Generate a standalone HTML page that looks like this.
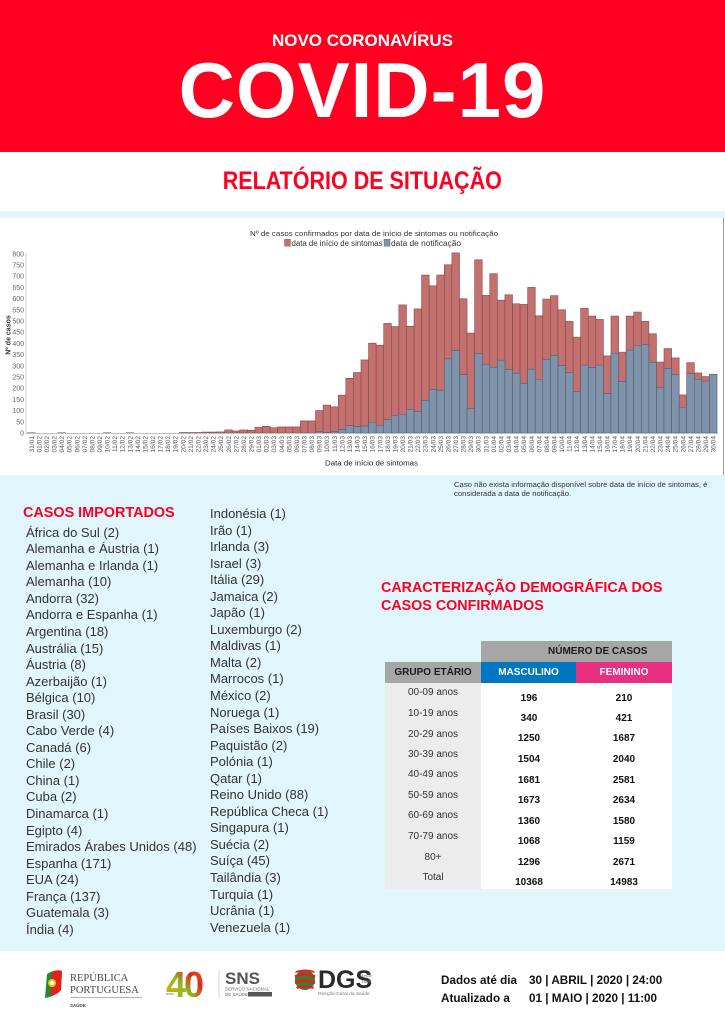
<!DOCTYPE html>
<html><head><meta charset="utf-8">
<style>
*{margin:0;padding:0;box-sizing:border-box}
body{width:725px;height:1024px;position:relative;overflow:hidden;background:#fff;font-family:"Liberation Sans",sans-serif;}
.a{position:absolute;white-space:nowrap}
.list{position:absolute;font-size:13px;line-height:16.55px;color:#333}
.tl{position:absolute;font-size:10px;color:#333;text-align:center;width:96px;left:385px;line-height:12px}
.nm{position:absolute;font-size:10px;font-weight:bold;color:#111;text-align:center;width:60px;line-height:12px}
</style></head><body>

<div class="a" style="left:0;top:0;width:725px;height:152px;background:#ff0020"></div>
<div class="a" style="left:0;top:31.5px;width:725px;text-align:center;font-size:17px;line-height:17px;font-weight:bold;color:#fff">NOVO CORONAVÍRUS</div>
<div class="a" style="left:0;top:51px;width:725px;text-align:center;font-size:78px;line-height:78px;font-weight:bold;color:#fff;letter-spacing:1px">COVID-19</div>
<div class="a" style="left:0;top:168.8px;width:725px;text-align:center;font-size:25px;line-height:25px;font-weight:bold;color:#ff0020"><span style="display:inline-block;transform:scaleX(0.86)">RELATÓRIO DE SITUAÇÃO</span></div>

<div class="a" style="left:0;top:211px;width:725px;height:7px;background:#e0f5fc"></div>
<div class="a" style="left:0;top:475px;width:725px;height:476px;background:#e1f5fc"></div>
<div class="a" style="left:723px;top:218px;width:1px;height:257px;background:#9a9a9a"></div>

<svg class="a" style="left:0;top:0" width="725" height="480" viewBox="0 0 725 480" xmlns="http://www.w3.org/2000/svg" font-family="Liberation Sans, sans-serif">
<text x="250" y="236" font-size="7.5" fill="#333" textLength="248" lengthAdjust="spacingAndGlyphs">Nº de casos confirmados por data de início de sintomas ou notificação</text>
<rect x="284.5" y="239.2" width="6" height="7" fill="#c4706f" stroke="#8a5555" stroke-width="0.4"/>
<text x="291.5" y="246" font-size="7.8" fill="#333" textLength="91" lengthAdjust="spacingAndGlyphs">data de início de sintomas</text>
<rect x="384" y="239.2" width="6" height="7" fill="#7f93ab" stroke="#55657a" stroke-width="0.4"/>
<text x="391" y="246" font-size="7.8" fill="#333" textLength="70" lengthAdjust="spacingAndGlyphs">data de notificação</text>

<g font-size="7" fill="#666" text-anchor="end">
<text x="24" y="435.5">0</text><text x="24" y="424.3">50</text><text x="24" y="413.1">100</text><text x="24" y="401.9">150</text><text x="24" y="390.7">200</text><text x="24" y="379.5">250</text><text x="24" y="368.3">300</text><text x="24" y="357.1">350</text><text x="24" y="345.9">400</text><text x="24" y="334.7">450</text><text x="24" y="323.5">500</text><text x="24" y="312.3">550</text><text x="24" y="301.1">600</text><text x="24" y="289.9">650</text><text x="24" y="278.7">700</text><text x="24" y="267.5">750</text><text x="24" y="256.3">800</text>
</g>
<line x1="26" y1="253" x2="26" y2="433.5" stroke="#bbb" stroke-width="0.7"/>
<text transform="translate(10.5 335) rotate(-90)" font-size="7" font-weight="bold" fill="#333" text-anchor="middle">Nº de casos</text>

<g transform="translate(27.7 433) scale(7.575 -0.224)" fill="#c4706f" stroke="#7e4a4a" stroke-width="0.6">
<rect vector-effect="non-scaling-stroke" x="0" y="0" width="1" height="1"/>
<rect vector-effect="non-scaling-stroke" x="4" y="0" width="1" height="1"/>
<rect vector-effect="non-scaling-stroke" x="10" y="0" width="1" height="1"/>
<rect vector-effect="non-scaling-stroke" x="13" y="0" width="1" height="1"/>
<rect vector-effect="non-scaling-stroke" x="20" y="0" width="1" height="2"/>
<rect vector-effect="non-scaling-stroke" x="21" y="0" width="1" height="2"/>
<rect vector-effect="non-scaling-stroke" x="22" y="0" width="1" height="2"/>
<rect vector-effect="non-scaling-stroke" x="23" y="0" width="1" height="4"/>
<rect vector-effect="non-scaling-stroke" x="24" y="0" width="1" height="4"/>
<rect vector-effect="non-scaling-stroke" x="25" y="0" width="1" height="5"/>
<rect vector-effect="non-scaling-stroke" x="26" y="0" width="1" height="14"/>
<rect vector-effect="non-scaling-stroke" x="27" y="0" width="1" height="9"/>
<rect vector-effect="non-scaling-stroke" x="28" y="0" width="1" height="14"/>
<rect vector-effect="non-scaling-stroke" x="29" y="0" width="1" height="12"/>
<rect vector-effect="non-scaling-stroke" x="30" y="0" width="1" height="25"/>
<rect vector-effect="non-scaling-stroke" x="31" y="0" width="1" height="30"/>
<rect vector-effect="non-scaling-stroke" x="32" y="0" width="1" height="24"/>
<rect vector-effect="non-scaling-stroke" x="33" y="0" width="1" height="27"/>
<rect vector-effect="non-scaling-stroke" x="34" y="0" width="1" height="27"/>
<rect vector-effect="non-scaling-stroke" x="35" y="0" width="1" height="27"/>
<rect vector-effect="non-scaling-stroke" x="36" y="0" width="1" height="54"/>
<rect vector-effect="non-scaling-stroke" x="37" y="0" width="1" height="54"/>
<rect vector-effect="non-scaling-stroke" x="38" y="0" width="1" height="100"/>
<rect vector-effect="non-scaling-stroke" x="39" y="0" width="1" height="125"/>
<rect vector-effect="non-scaling-stroke" x="40" y="0" width="1" height="117"/>
<rect vector-effect="non-scaling-stroke" x="41" y="0" width="1" height="169"/>
<rect vector-effect="non-scaling-stroke" x="42" y="0" width="1" height="244"/>
<rect vector-effect="non-scaling-stroke" x="43" y="0" width="1" height="270"/>
<rect vector-effect="non-scaling-stroke" x="44" y="0" width="1" height="326"/>
<rect vector-effect="non-scaling-stroke" x="45" y="0" width="1" height="401"/>
<rect vector-effect="non-scaling-stroke" x="46" y="0" width="1" height="392"/>
<rect vector-effect="non-scaling-stroke" x="47" y="0" width="1" height="489"/>
<rect vector-effect="non-scaling-stroke" x="48" y="0" width="1" height="475"/>
<rect vector-effect="non-scaling-stroke" x="49" y="0" width="1" height="572"/>
<rect vector-effect="non-scaling-stroke" x="50" y="0" width="1" height="477"/>
<rect vector-effect="non-scaling-stroke" x="51" y="0" width="1" height="554"/>
<rect vector-effect="non-scaling-stroke" x="52" y="0" width="1" height="705"/>
<rect vector-effect="non-scaling-stroke" x="53" y="0" width="1" height="657"/>
<rect vector-effect="non-scaling-stroke" x="54" y="0" width="1" height="705"/>
<rect vector-effect="non-scaling-stroke" x="55" y="0" width="1" height="751"/>
<rect vector-effect="non-scaling-stroke" x="56" y="0" width="1" height="804"/>
<rect vector-effect="non-scaling-stroke" x="57" y="0" width="1" height="599"/>
<rect vector-effect="non-scaling-stroke" x="58" y="0" width="1" height="446"/>
<rect vector-effect="non-scaling-stroke" x="59" y="0" width="1" height="773"/>
<rect vector-effect="non-scaling-stroke" x="60" y="0" width="1" height="614"/>
<rect vector-effect="non-scaling-stroke" x="61" y="0" width="1" height="711"/>
<rect vector-effect="non-scaling-stroke" x="62" y="0" width="1" height="593"/>
<rect vector-effect="non-scaling-stroke" x="63" y="0" width="1" height="617"/>
<rect vector-effect="non-scaling-stroke" x="64" y="0" width="1" height="577"/>
<rect vector-effect="non-scaling-stroke" x="65" y="0" width="1" height="574"/>
<rect vector-effect="non-scaling-stroke" x="66" y="0" width="1" height="650"/>
<rect vector-effect="non-scaling-stroke" x="67" y="0" width="1" height="523"/>
<rect vector-effect="non-scaling-stroke" x="68" y="0" width="1" height="598"/>
<rect vector-effect="non-scaling-stroke" x="69" y="0" width="1" height="613"/>
<rect vector-effect="non-scaling-stroke" x="70" y="0" width="1" height="550"/>
<rect vector-effect="non-scaling-stroke" x="71" y="0" width="1" height="498"/>
<rect vector-effect="non-scaling-stroke" x="72" y="0" width="1" height="428"/>
<rect vector-effect="non-scaling-stroke" x="73" y="0" width="1" height="557"/>
<rect vector-effect="non-scaling-stroke" x="74" y="0" width="1" height="522"/>
<rect vector-effect="non-scaling-stroke" x="75" y="0" width="1" height="507"/>
<rect vector-effect="non-scaling-stroke" x="76" y="0" width="1" height="344"/>
<rect vector-effect="non-scaling-stroke" x="77" y="0" width="1" height="522"/>
<rect vector-effect="non-scaling-stroke" x="78" y="0" width="1" height="361"/>
<rect vector-effect="non-scaling-stroke" x="79" y="0" width="1" height="522"/>
<rect vector-effect="non-scaling-stroke" x="80" y="0" width="1" height="540"/>
<rect vector-effect="non-scaling-stroke" x="81" y="0" width="1" height="498"/>
<rect vector-effect="non-scaling-stroke" x="82" y="0" width="1" height="443"/>
<rect vector-effect="non-scaling-stroke" x="83" y="0" width="1" height="317"/>
<rect vector-effect="non-scaling-stroke" x="84" y="0" width="1" height="377"/>
<rect vector-effect="non-scaling-stroke" x="85" y="0" width="1" height="335"/>
<rect vector-effect="non-scaling-stroke" x="86" y="0" width="1" height="170"/>
<rect vector-effect="non-scaling-stroke" x="87" y="0" width="1" height="314"/>
<rect vector-effect="non-scaling-stroke" x="88" y="0" width="1" height="268"/>
<rect vector-effect="non-scaling-stroke" x="89" y="0" width="1" height="252"/>
</g>
<g transform="translate(27.7 433) scale(7.575 -0.224)" fill="#7f93ab" stroke="#4f5f72" stroke-width="0.6">
<rect vector-effect="non-scaling-stroke" x="38" y="0" width="1" height="6"/>
<rect vector-effect="non-scaling-stroke" x="39" y="0" width="1" height="2"/>
<rect vector-effect="non-scaling-stroke" x="40" y="0" width="1" height="6"/>
<rect vector-effect="non-scaling-stroke" x="41" y="0" width="1" height="16"/>
<rect vector-effect="non-scaling-stroke" x="42" y="0" width="1" height="33"/>
<rect vector-effect="non-scaling-stroke" x="43" y="0" width="1" height="28"/>
<rect vector-effect="non-scaling-stroke" x="44" y="0" width="1" height="31"/>
<rect vector-effect="non-scaling-stroke" x="45" y="0" width="1" height="48"/>
<rect vector-effect="non-scaling-stroke" x="46" y="0" width="1" height="34"/>
<rect vector-effect="non-scaling-stroke" x="47" y="0" width="1" height="60"/>
<rect vector-effect="non-scaling-stroke" x="48" y="0" width="1" height="77"/>
<rect vector-effect="non-scaling-stroke" x="49" y="0" width="1" height="82"/>
<rect vector-effect="non-scaling-stroke" x="50" y="0" width="1" height="106"/>
<rect vector-effect="non-scaling-stroke" x="51" y="0" width="1" height="95"/>
<rect vector-effect="non-scaling-stroke" x="52" y="0" width="1" height="146"/>
<rect vector-effect="non-scaling-stroke" x="53" y="0" width="1" height="195"/>
<rect vector-effect="non-scaling-stroke" x="54" y="0" width="1" height="191"/>
<rect vector-effect="non-scaling-stroke" x="55" y="0" width="1" height="331"/>
<rect vector-effect="non-scaling-stroke" x="56" y="0" width="1" height="368"/>
<rect vector-effect="non-scaling-stroke" x="57" y="0" width="1" height="261"/>
<rect vector-effect="non-scaling-stroke" x="58" y="0" width="1" height="109"/>
<rect vector-effect="non-scaling-stroke" x="59" y="0" width="1" height="355"/>
<rect vector-effect="non-scaling-stroke" x="60" y="0" width="1" height="307"/>
<rect vector-effect="non-scaling-stroke" x="61" y="0" width="1" height="294"/>
<rect vector-effect="non-scaling-stroke" x="62" y="0" width="1" height="325"/>
<rect vector-effect="non-scaling-stroke" x="63" y="0" width="1" height="283"/>
<rect vector-effect="non-scaling-stroke" x="64" y="0" width="1" height="267"/>
<rect vector-effect="non-scaling-stroke" x="65" y="0" width="1" height="222"/>
<rect vector-effect="non-scaling-stroke" x="66" y="0" width="1" height="285"/>
<rect vector-effect="non-scaling-stroke" x="67" y="0" width="1" height="240"/>
<rect vector-effect="non-scaling-stroke" x="68" y="0" width="1" height="329"/>
<rect vector-effect="non-scaling-stroke" x="69" y="0" width="1" height="347"/>
<rect vector-effect="non-scaling-stroke" x="70" y="0" width="1" height="301"/>
<rect vector-effect="non-scaling-stroke" x="71" y="0" width="1" height="270"/>
<rect vector-effect="non-scaling-stroke" x="72" y="0" width="1" height="185"/>
<rect vector-effect="non-scaling-stroke" x="73" y="0" width="1" height="303"/>
<rect vector-effect="non-scaling-stroke" x="74" y="0" width="1" height="292"/>
<rect vector-effect="non-scaling-stroke" x="75" y="0" width="1" height="303"/>
<rect vector-effect="non-scaling-stroke" x="76" y="0" width="1" height="176"/>
<rect vector-effect="non-scaling-stroke" x="77" y="0" width="1" height="356"/>
<rect vector-effect="non-scaling-stroke" x="78" y="0" width="1" height="230"/>
<rect vector-effect="non-scaling-stroke" x="79" y="0" width="1" height="370"/>
<rect vector-effect="non-scaling-stroke" x="80" y="0" width="1" height="389"/>
<rect vector-effect="non-scaling-stroke" x="81" y="0" width="1" height="396"/>
<rect vector-effect="non-scaling-stroke" x="82" y="0" width="1" height="316"/>
<rect vector-effect="non-scaling-stroke" x="83" y="0" width="1" height="204"/>
<rect vector-effect="non-scaling-stroke" x="84" y="0" width="1" height="289"/>
<rect vector-effect="non-scaling-stroke" x="85" y="0" width="1" height="262"/>
<rect vector-effect="non-scaling-stroke" x="86" y="0" width="1" height="115"/>
<rect vector-effect="non-scaling-stroke" x="87" y="0" width="1" height="265"/>
<rect vector-effect="non-scaling-stroke" x="88" y="0" width="1" height="240"/>
<rect vector-effect="non-scaling-stroke" x="89" y="0" width="1" height="232"/>
<rect vector-effect="non-scaling-stroke" x="90" y="0" width="1" height="262"/>
</g>
<line x1="26" y1="433.3" x2="718" y2="433.3" stroke="#999" stroke-width="0.6"/>

<g transform="rotate(-90)" font-size="6.6" fill="#555" text-anchor="end">
<text x="-436" y="33.80">31/01</text><text x="-436" y="41.38">01/02</text><text x="-436" y="48.95">02/02</text><text x="-436" y="56.53">03/02</text><text x="-436" y="64.10">04/02</text><text x="-436" y="71.68">05/02</text><text x="-436" y="79.25">06/02</text><text x="-436" y="86.83">07/02</text><text x="-436" y="94.40">08/02</text><text x="-436" y="101.98">09/02</text>
<text x="-436" y="109.55">10/02</text><text x="-436" y="117.13">11/02</text><text x="-436" y="124.70">12/02</text><text x="-436" y="132.28">13/02</text><text x="-436" y="139.85">14/02</text><text x="-436" y="147.43">15/02</text><text x="-436" y="155.00">16/02</text><text x="-436" y="162.58">17/02</text><text x="-436" y="170.15">18/02</text><text x="-436" y="177.73">19/02</text>
<text x="-436" y="185.30">20/02</text><text x="-436" y="192.88">21/02</text><text x="-436" y="200.45">22/02</text><text x="-436" y="208.03">23/02</text><text x="-436" y="215.60">24/02</text><text x="-436" y="223.18">25/02</text><text x="-436" y="230.75">26/02</text><text x="-436" y="238.33">27/02</text><text x="-436" y="245.90">28/02</text><text x="-436" y="253.48">29/02</text>
<text x="-436" y="261.05">01/03</text><text x="-436" y="268.63">02/03</text><text x="-436" y="276.20">03/03</text><text x="-436" y="283.78">04/03</text><text x="-436" y="291.35">05/03</text><text x="-436" y="298.93">06/03</text><text x="-436" y="306.50">07/03</text><text x="-436" y="314.08">08/03</text><text x="-436" y="321.65">09/03</text><text x="-436" y="329.23">10/03</text>
<text x="-436" y="336.80">11/03</text><text x="-436" y="344.38">12/03</text><text x="-436" y="351.95">13/03</text><text x="-436" y="359.53">14/03</text><text x="-436" y="367.10">15/03</text><text x="-436" y="374.68">16/03</text><text x="-436" y="382.25">17/03</text><text x="-436" y="389.83">18/03</text><text x="-436" y="397.40">19/03</text><text x="-436" y="404.98">20/03</text>
<text x="-436" y="412.55">21/03</text><text x="-436" y="420.13">22/03</text><text x="-436" y="427.70">23/03</text><text x="-436" y="435.28">24/03</text><text x="-436" y="442.85">25/03</text><text x="-436" y="450.43">26/03</text><text x="-436" y="458.00">27/03</text><text x="-436" y="465.58">28/03</text><text x="-436" y="473.15">29/03</text><text x="-436" y="480.73">30/03</text>
<text x="-436" y="488.30">31/03</text><text x="-436" y="495.88">01/04</text><text x="-436" y="503.45">02/04</text><text x="-436" y="511.03">03/04</text><text x="-436" y="518.60">04/04</text><text x="-436" y="526.18">05/04</text><text x="-436" y="533.75">06/04</text><text x="-436" y="541.33">07/04</text><text x="-436" y="548.90">08/04</text><text x="-436" y="556.48">09/04</text>
<text x="-436" y="564.05">10/04</text><text x="-436" y="571.63">11/04</text><text x="-436" y="579.20">12/04</text><text x="-436" y="586.78">13/04</text><text x="-436" y="594.35">14/04</text><text x="-436" y="601.93">15/04</text><text x="-436" y="609.50">16/04</text><text x="-436" y="617.08">17/04</text><text x="-436" y="624.65">18/04</text><text x="-436" y="632.23">19/04</text>
<text x="-436" y="639.80">20/04</text><text x="-436" y="647.38">21/04</text><text x="-436" y="654.95">22/04</text><text x="-436" y="662.53">23/04</text><text x="-436" y="670.10">24/04</text><text x="-436" y="677.68">25/04</text><text x="-436" y="685.25">26/04</text><text x="-436" y="692.83">27/04</text><text x="-436" y="700.40">28/04</text><text x="-436" y="707.98">29/04</text>
<text x="-436" y="715.55">30/04</text>
</g>
<text x="325" y="465.5" font-size="7.5" fill="#222" textLength="93" lengthAdjust="spacingAndGlyphs">Data de início de sintomas</text>
</svg>

<div class="a" style="left:454px;top:479.5px;font-size:7.7px;line-height:9px;color:#333">Caso não exista informação disponível sobre data de início de sintomas, é<br>considerada a data de notificação.</div>

<div class="a" style="left:23px;top:505px;font-size:14.4px;line-height:16px;font-weight:bold;color:#ff0020">CASOS IMPORTADOS</div>
<div class="list" style="left:26px;top:524.7px">África do Sul (2)<br>Alemanha e Áustria (1)<br>Alemanha e Irlanda (1)<br>Alemanha (10)<br>Andorra (32)<br>Andorra e Espanha (1)<br>Argentina (18)<br>Austrália (15)<br>Áustria (8)<br>Azerbaijão (1)<br>Bélgica (10)<br>Brasil (30)<br>Cabo Verde (4)<br>Canadá (6)<br>Chile (2)<br>China (1)<br>Cuba (2)<br>Dinamarca (1)<br>Egipto (4)<br>Emirados Árabes Unidos (48)<br>Espanha (171)<br>EUA (24)<br>França (137)<br>Guatemala (3)<br>Índia (4)</div>
<div class="list" style="left:210px;top:506px">Indonésia (1)<br>Irão (1)<br>Irlanda (3)<br>Israel (3)<br>Itália (29)<br>Jamaica (2)<br>Japão (1)<br>Luxemburgo (2)<br>Maldivas (1)<br>Malta (2)<br>Marrocos (1)<br>México (2)<br>Noruega (1)<br>Países Baixos (19)<br>Paquistão (2)<br>Polónia (1)<br>Qatar (1)<br>Reino Unido (88)<br>República Checa (1)<br>Singapura (1)<br>Suécia (2)<br>Suíça (45)<br>Tailândia (3)<br>Turquia (1)<br>Ucrânia (1)<br>Venezuela (1)</div>

<div class="a" style="left:381px;top:579px;font-size:14.3px;line-height:18px;font-weight:bold;color:#ff0020">CARACTERIZAÇÃO DEMOGRÁFICA DOS<br>CASOS CONFIRMADOS</div>

<div class="a" style="left:481px;top:641px;width:191px;height:21px;background:#a6a6a6"></div>
<div class="a" style="left:548px;top:646px;font-size:10px;line-height:12px;font-weight:bold;color:#1a1a1a">NÚMERO DE CASOS</div>
<div class="a" style="left:385px;top:662px;width:96px;height:21px;background:#a6a6a6;color:#1a1a1a;font-size:10px;font-weight:bold;line-height:21px;text-align:center">GRUPO ETÁRIO</div>
<div class="a" style="left:481px;top:662px;width:95px;height:21px;background:#0077c0;color:#fff;font-size:10px;font-weight:bold;line-height:21px;text-align:center">MASCULINO</div>
<div class="a" style="left:576px;top:662px;width:96px;height:21px;background:#e92f7f;color:#fff;font-size:10px;font-weight:bold;line-height:21px;text-align:center">FEMININO</div>
<div class="a" style="left:385px;top:683px;width:96px;height:206px;background:#ececec"></div>
<div class="a" style="left:481px;top:683px;width:191px;height:206px;background:#fff"></div>

<div class="tl" style="top:687px">00-09 anos</div>
<div class="tl" style="top:707.7px">10-19 anos</div>
<div class="tl" style="top:728.7px">20-29 anos</div>
<div class="tl" style="top:748.7px">30-39 anos</div>
<div class="tl" style="top:769.3px">40-49 anos</div>
<div class="tl" style="top:790px">50-59 anos</div>
<div class="tl" style="top:810.3px">60-69 anos</div>
<div class="tl" style="top:831px">70-79 anos</div>
<div class="tl" style="top:851.7px">80+</div>
<div class="tl" style="top:872px">Total</div>

<div class="nm" style="left:499px;top:693px">196</div><div class="nm" style="left:594px;top:693px">210</div>
<div class="nm" style="left:499px;top:713.3px">340</div><div class="nm" style="left:594px;top:713.3px">421</div>
<div class="nm" style="left:499px;top:733.3px">1250</div><div class="nm" style="left:594px;top:733.3px">1687</div>
<div class="nm" style="left:499px;top:754px">1504</div><div class="nm" style="left:594px;top:754px">2040</div>
<div class="nm" style="left:499px;top:774.7px">1681</div><div class="nm" style="left:594px;top:774.7px">2581</div>
<div class="nm" style="left:499px;top:795.3px">1673</div><div class="nm" style="left:594px;top:795.3px">2634</div>
<div class="nm" style="left:499px;top:815.7px">1360</div><div class="nm" style="left:594px;top:815.7px">1580</div>
<div class="nm" style="left:499px;top:836.3px">1068</div><div class="nm" style="left:594px;top:836.3px">1159</div>
<div class="nm" style="left:499px;top:857px">1296</div><div class="nm" style="left:594px;top:857px">2671</div>
<div class="nm" style="left:499px;top:877px">10368</div><div class="nm" style="left:594px;top:877px">14983</div>

<!-- footer -->
<svg class="a" style="left:0;top:951px" width="725" height="73" viewBox="0 951 725 73" xmlns="http://www.w3.org/2000/svg" font-family="Liberation Sans, sans-serif">
<defs>
<linearGradient id="g40" x1="0" y1="1" x2="1" y2="0">
<stop offset="0" stop-color="#f2a800"/><stop offset="0.45" stop-color="#8dbb1f"/><stop offset="0.7" stop-color="#e2261c"/><stop offset="1" stop-color="#f07a10"/>
</linearGradient>
</defs>
<path d="M47 974 Q55 969 62 971 L61 990 Q56 996 45 998 Z" fill="#1f8a3a"/>
<path d="M52 972 Q57 969 62 971 L61 990 Q57 995 50 996 Z" fill="#e3221b"/>
<circle cx="52" cy="983" r="4" fill="#f5c400"/>
<circle cx="52" cy="983" r="2.2" fill="#fff"/>
<text x="70" y="981" font-family="Liberation Serif, serif" font-size="10.5" fill="#444">REPÚBLICA</text>
<text x="70" y="993" font-family="Liberation Serif, serif" font-size="10.5" fill="#444">PORTUGUESA</text>
<line x1="70" y1="997.5" x2="142" y2="997.5" stroke="#999" stroke-width="0.8"/>
<text x="70" y="1007" font-size="4.5" fill="#444" font-weight="bold">SAÚDE</text>

<text x="166" y="997" font-size="36" font-weight="bold" fill="url(#g40)" letter-spacing="-2">40</text>
<text x="166" y="995" font-size="3.5" fill="#666">anos</text>
<line x1="219" y1="971" x2="219" y2="997" stroke="#ccc" stroke-width="0.8"/>
<text x="225" y="984" font-size="17" font-weight="bold" fill="#555">SNS</text>
<text x="225" y="990.5" font-size="4.5" fill="#666">SERVIÇO NACIONAL</text>
<text x="225" y="996" font-size="4.5" fill="#666">DE SAÚDE</text>
<rect x="248" y="992" width="24" height="4.5" fill="#555"/>

<ellipse cx="305" cy="980" rx="10" ry="10" fill="#1f8a3a"/>
<path d="M295 975 Q305 971 315 975 L315 978 Q305 974 295 978 Z" fill="#e3221b"/>
<path d="M295 981 Q305 977 315 981 L315 984 Q305 980 295 984 Z" fill="#e3221b"/>
<path d="M296 987 Q305 983 314 987 L313 989 Q305 986 297 989 Z" fill="#e3221b"/>
<path d="M296 971 Q305 968 314 971 L315 973 Q305 970 295 973 Z" fill="#e3221b"/>
<text x="318" y="988" font-size="25" font-weight="bold" fill="#2a2a2a">DGS</text>
<text x="361" y="977" font-size="4" fill="#777">desde</text>
<text x="361" y="983" font-size="4.5" fill="#777">1899</text>
<text x="318" y="995" font-size="4.8" fill="#777">Direção-Geral da Saúde</text>

<g font-size="11.7" font-weight="bold" fill="#111">
<text x="441" y="984">Dados até dia</text><text x="529" y="984">30 | ABRIL | 2020 | 24:00</text>
<text x="441" y="1002">Atualizado a</text><text x="529" y="1002">01 | MAIO | 2020 | 11:00</text>
</g>
</svg>

</body></html>
